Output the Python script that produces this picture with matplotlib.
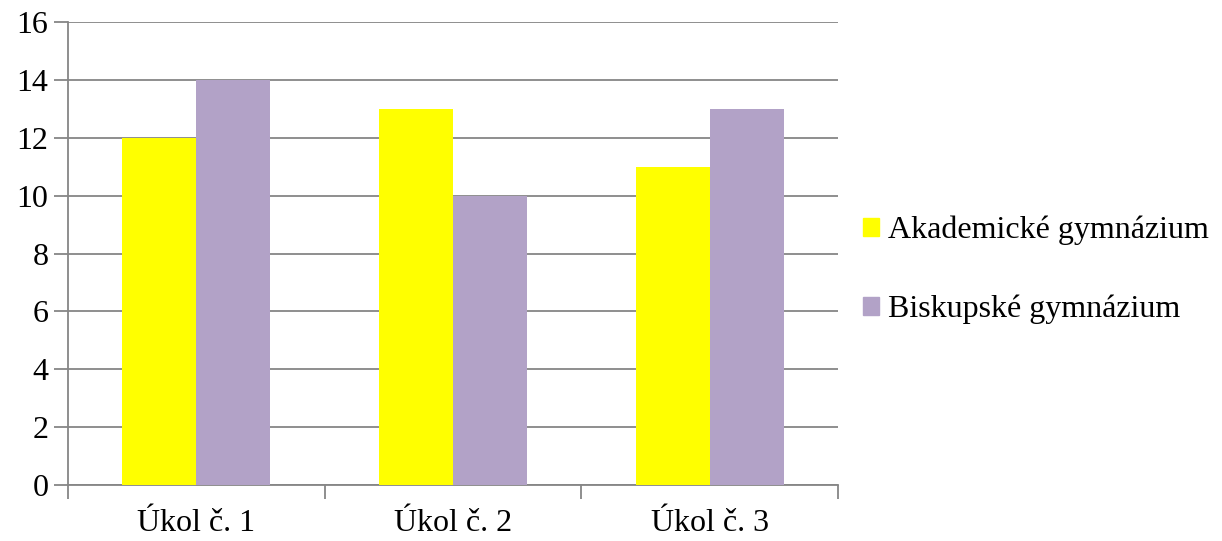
import numpy as np
import matplotlib.pyplot as plt
from matplotlib.patches import Patch

# Datos
categorias = ["Úkol č. 1", "Úkol č. 2", "Úkol č. 3"]
akademicke = [12, 13, 11]
biskupske = [14, 10, 13]
series = ["Akademické gymnázium", "Biskupské gymnázium"]

plt.rcParams["font.family"] = ["Liberation Serif", "DejaVu Serif"]
plt.rcParams["font.size"] = 23

fig = plt.figure(figsize=(12.22, 5.41), dpi=100)
ax = fig.add_axes([0.0556, 0.1035, 0.6302, 0.8558])

gris = "#868686"
x = np.arange(len(categorias))
w = 0.288
ax.bar(x - w / 2, akademicke, w, color="#FFFF00", zorder=3)
ax.bar(x + w / 2, biskupske, w, color="#B2A2C7", zorder=3)

ax.set_xlim(-0.5, len(categorias) - 0.5)
ax.set_ylim(0, 16)
ax.set_yticks(range(0, 17, 2))
ax.yaxis.grid(True, color=gris, linewidth=1.3, zorder=0)
ax.tick_params(axis="y", length=10, color=gris, width=1.3, pad=4)

ax.set_xticks(x)
ax.set_xticklabels(categorias)
ax.set_xticks(np.arange(-0.5, len(categorias), 1.0), minor=True)
ax.tick_params(axis="x", which="major", length=0, pad=17)
ax.tick_params(axis="x", which="minor", length=10, color=gris, width=1.3)

for lado in ["top", "right"]:
    ax.spines[lado].set_visible(False)
for lado in ["left", "bottom"]:
    ax.spines[lado].set_color(gris)
    ax.spines[lado].set_linewidth(1.3)

handles = [Patch(color="#FFFF00"), Patch(color="#B2A2C7")]
ax.legend(handles, series, loc="center left", bbox_to_anchor=(1.032, 0.465),
          bbox_transform=ax.transAxes, frameon=False, borderpad=0, borderaxespad=0,
          handlelength=0.5, handleheight=0.5, handletextpad=0.3,
          labelspacing=1.55, fontsize=23)

fig.savefig("out.png", dpi=100)
